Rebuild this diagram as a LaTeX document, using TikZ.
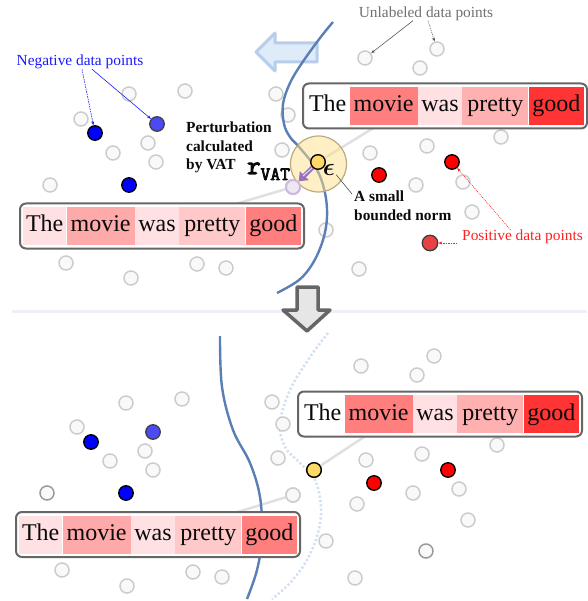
\documentclass[tikz,border=0pt]{standalone}
\usepackage{amsmath}
\usepackage{fontspec}
\setmainfont{Liberation Serif}
\newfontfamily\serifnt{Liberation Serif}
\newfontfamily\serifbig{Liberation Serif}[Scale=1.5584]
\newfontfamily\slabfnt{Latin Modern Mono}[FakeBold=4]
\usetikzlibrary{arrows.meta}
\definecolor{txt}{HTML}{0A0A0A}
\definecolor{gcline}{HTML}{CCCCCC}
\definecolor{gcfill}{HTML}{F9F9F9}
\definecolor{gcdark}{HTML}{9A9A9A}
\definecolor{boxline}{HTML}{666666}
\definecolor{cE1}{HTML}{FFE1E4}
\definecolor{cAA}{HTML}{FFAAAA}
\definecolor{cC8}{HTML}{FFC9C9}
\definecolor{c80}{HTML}{FF7F7F}
\definecolor{cB0}{HTML}{FFB1B1}
\definecolor{c35}{HTML}{FF3535}
\definecolor{curveblue}{HTML}{5A7FB5}
\definecolor{dotcurve}{HTML}{D3E0F2}
\definecolor{sepline}{HTML}{EDF1F7}
\definecolor{arrfill}{HTML}{DEEBF8}
\definecolor{arrline}{HTML}{B7CDEA}
\definecolor{negblue}{HTML}{1A1AFF}
\definecolor{posred}{HTML}{FF2020}
\definecolor{unlgrey}{HTML}{707070}
\definecolor{bluedot}{HTML}{0000FF}
\definecolor{bluelight}{HTML}{4B4BF5}
\definecolor{reddot}{HTML}{FF0000}
\definecolor{redlight}{HTML}{E84242}
\definecolor{yeldot}{HTML}{FFD966}
\definecolor{yelbig}{HTML}{FFE08A}
\definecolor{yelline}{HTML}{BBAA80}
\definecolor{purp}{HTML}{9673B9}
\definecolor{purpin}{HTML}{E6DAF2}
\definecolor{purpc}{HTML}{EEE8F4}
\definecolor{purpcl}{HTML}{CDB9DF}
\definecolor{connc}{HTML}{E0E0E0}
\definecolor{downfill}{HTML}{E6E6E6}
\definecolor{downline}{HTML}{666666}
\tikzset{
  gc/.style={circle, draw=gcline, fill=gcfill, line width=1.5pt, minimum size=14pt, inner sep=0pt},
  gcd/.style={gc, draw=gcdark},
  dot/.style={circle, draw=black, line width=1.3pt, minimum size=14.5pt, inner sep=0pt},
  dotl/.style={dot, draw=black!75},
  cell/.style={inner sep=0pt, minimum height=38pt, text height=17pt, text depth=5pt, text=txt,
               font=\serifbig\fontsize{15.4}{18}\selectfont, anchor=west},
  sbox/.style={draw=boxline, line width=2pt, rounded corners=6pt, fill=white,
               minimum height=45pt, inner sep=0pt, anchor=west},
  lbl/.style={font=\serifnt\fontsize{15.4}{18}\selectfont, inner sep=0pt},
  note/.style={text=txt, inner sep=0pt, anchor=north west, align=left},
  conn/.style={draw=connc, line width=2.5pt},
  bcurve/.style={draw=curveblue, line width=2.4pt},
  lead/.style={line width=0.6pt, -{Stealth[length=4pt,width=3pt]}},
}
\newcommand\sentence[8]{%
  \node[sbox, minimum width=284pt] (#1) at (#2,#3) {};
  \node[cell, fill=#4, minimum width=43pt] (#1a) at ([xshift=4pt]#1.west) {The};
  \node[cell, fill=#5, minimum width=68pt] (#1b) at (#1a.east) {movie};
  \node[cell, fill=#6, minimum width=44pt] (#1c) at (#1b.east) {was};
  \node[cell, fill=#7, minimum width=66pt] (#1d) at (#1c.east) {pretty};
  \node[cell, fill=#8, minimum width=55pt] (#1e) at (#1d.east) {good};
}
\begin{document}
\begin{tikzpicture}[x=1pt,y=-1pt]
\useasboundingbox (0,0) rectangle (587,601);
\draw[sepline, line width=3pt] (12,311) -- (587,311);
\draw[draw=arrline, fill=arrfill, line width=3pt, line join=round]
  (256,52) -- (275,33) -- (275,43) -- (317,43) -- (317,62) -- (275,62) -- (275,71) -- cycle;
\draw[draw=dotcurve, line width=2.6pt, dash pattern=on 2.2pt off 2.2pt]
  plot[smooth, tension=0.6] coordinates {(328,333) (310,357) (290,390) (280,423) (285,447) (300,463) (315,480) (321,507) (318,533) (307,560) (290,583) (272,599)};
\node[dot, fill=yeldot] (yd) at (318,162) {};
\node[circle, draw=purpcl, fill=purpc, line width=2pt, minimum size=14pt, inner sep=0pt] (pc) at (293,187) {};
\node[gc] (gq) at (293,495) {};
\node[dot, fill=yeldot] (byd) at (314,470) {};
\coordinate (cTL) at (215,210);
\coordinate (cTR) at (375,127);
\coordinate (cBR) at (367,435);
\coordinate (cBL) at (228,515);
\draw[conn] (pc.center) -- (cTL);
\draw[conn] (yd.center) -- (cTR);
\draw[conn] (byd.center) -- (cBR);
\draw[conn] (gq.center) -- (cBL);
\foreach \x/\y [count=\i] in {129/94, 185/91, 276/94, 81/119, 288/115, 148/143, 113/153, 156/162, 282/150, 50/185, 66/263, 197/264, 226/268, 131/278, 420/68, 501/137, 427/146, 370/153, 416/185, 463/182, 472/212, 326/230, 359/269}
  \node[gc] (gt\i) at (\x,\y) {};
\node[gc] (ua) at (365,58) {};
\node[gc] (ub) at (437,49) {};
\foreach \x/\y [count=\i] in {126/403, 182/399, 77/427, 272/402, 283/424, 145/451, 110/461, 153/470, 278/458, 62/570, 193/572, 222/577, 127/586, 434/356, 361/366, 417/375, 497/445, 422/454, 366/460, 459/489, 413/493, 357/504, 468/520, 326/541, 355/578}
  \node[gc] (gb\i) at (\x,\y) {};
\node[gcd] (gd1) at (47,493) {};
\node[gcd] (gd2) at (426,551) {};
\node[gc] at (gq) {};
\node[dot, fill=yeldot] at (byd) {};
\draw[bcurve] plot[smooth, tension=0.6] coordinates {(333,22) (320,38) (302,63) (290,83) (283,104) (284,124) (290,137) (300,148) (317,170) (325,193) (327,217) (323,240) (313,263) (299,280) (277,293)};
\draw[bcurve] plot[smooth, tension=0.6] coordinates {(220,336) (222,387) (233,430) (250,463) (260,497) (262,537) (257,570) (247,599)};
\node[circle, draw=yelline, line width=1.2pt, fill=yelbig, fill opacity=0.5, minimum size=56pt, inner sep=0pt] (ball) at (318.5,164) {};
\node[circle, draw=purpcl, fill=purpc, line width=2pt, minimum size=14pt, inner sep=0pt] at (pc) {};
\draw[purp, line width=4.5pt, -{Triangle[length=8pt,width=12pt]}] (yd.center) -- (pc.north east);
\draw[purpin, line width=1pt] (313,167) -- (303,176);
\node[dot, fill=yeldot] at (yd) {};
\node[dot, fill=bluedot] (b1) at (95,133) {};
\node[dotl, fill=bluelight] (b2) at (157,124) {};
\node[dot, fill=bluedot] (b3) at (129,185) {};
\node[dot, fill=reddot] (r1) at (379,175) {};
\node[dot, fill=reddot] (r2) at (452,162) {};
\node[dotl, fill=redlight, minimum size=15.5pt] (r3) at (430,243) {};
\node[dot, fill=bluedot] (bb1) at (91,442) {};
\node[dotl, fill=bluelight] (bb2) at (153,432) {};
\node[dot, fill=bluedot] (bb3) at (126,493) {};
\node[dot, fill=reddot] (br1) at (374,483) {};
\node[dot, fill=reddot] (br2) at (448,470) {};
\sentence{TR}{302}{106}{white}{c80}{cE1}{cB0}{c35}
\sentence{TL}{19}{226}{cE1}{cAA}{cE1}{cC8}{c80}
\sentence{BR}{297}{414}{white}{c80}{cE1}{cB0}{c35}
\sentence{BL}{15}{534.5}{cE1}{cAA}{cE1}{cC8}{c80}
\node[lbl, text=negblue] (neg) at (80,62) {Negative data points};
\node[lbl, text=unlgrey] (unl) at (426,13.5) {Unlabeled data points};
\node[lbl, text=posred, anchor=west] (pos) at (462,237) {Positive data points};
\node[note, font=\serifnt\bfseries\fontsize{15.4}{18.4}\selectfont] (pert) at (186,122) {Perturbation\\calculated\\by VAT};
\node[note, font=\serifnt\bfseries\fontsize{15.4}{19}\selectfont] (norm) at (354,191) {A small\\bounded norm};
\node[anchor=base west, inner sep=0pt, text=txt] (rvat) at (247,174)
  {\slabfnt\fontsize{26}{26}\selectfont r\raisebox{-6pt}{\fontsize{19}{19}\selectfont VAT}};
\node[inner sep=0pt, text=txt] (eps) at (329,170) {\fontsize{27}{27}\selectfont$\boldsymbol{\epsilon}$};
\draw[lead, negblue, dash pattern=on 1.5pt off 1pt] ([xshift=2pt]neg.south) -- (b1);
\draw[lead, negblue] ([xshift=12pt]neg.south) -- (b2);
\draw[lead, unlgrey!80!black] ([xshift=-13pt]unl.south) -- (ua);
\draw[lead, unlgrey!80!black, dash pattern=on 1pt off 1pt] ([xshift=2pt]unl.south) -- (ub);
\draw[lead, posred, dash pattern=on 1pt off 1pt] ([xshift=-12pt]pos.north) -- (r2);
\draw[lead, posred, dash pattern=on 1.5pt off 1pt] ([xshift=-5pt,yshift=-6pt]pos.west) -- (r3);
\draw[line width=0.6pt, black!70] ([xshift=1pt,yshift=1pt]eps.south east) -- ([xshift=-2pt,yshift=-3pt]norm.north west);
\draw[draw=downline, fill=downfill, line width=3.5pt, line join=round]
  (297,287) -- (318,287) -- (318,310) -- (330,310) -- (307,331) -- (283,310) -- (297,310) -- cycle;
\end{tikzpicture}
\end{document}
